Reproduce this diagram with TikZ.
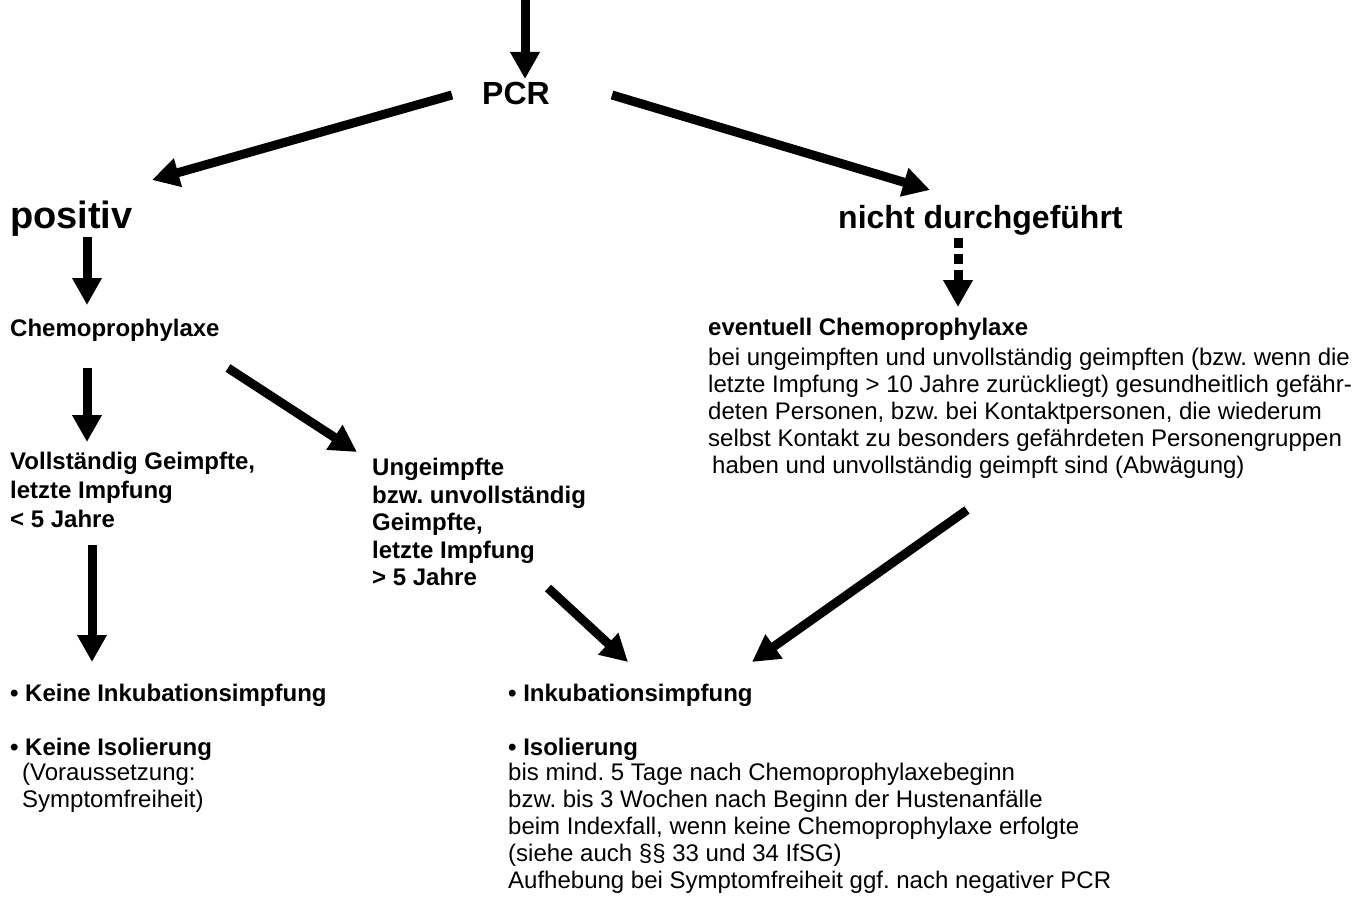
\documentclass[tikz,border=0pt]{standalone}
\usepackage{fontspec}
\setmainfont{Liberation Sans}
\usetikzlibrary{arrows.meta}
\begin{document}
\frenchspacing
\begin{tikzpicture}[x=1pt,y=-1pt,
  arr/.style={line width=9pt, -{Triangle[width=28pt,length=27pt]}},
  dotarr/.style={line width=9pt, dash pattern=on 10pt off 6pt, -{Triangle[width=28pt,length=27pt]}},
  big/.style={font=\fontsize{32}{38}\selectfont\bfseries, inner sep=0pt},
  bt/.style={font=\fontsize{24}{29}\selectfont\bfseries, inner sep=0pt, align=left},
  nt/.style={font=\fontsize{24}{27}\selectfont, inner sep=0pt, align=left}]
\useasboundingbox (0,0) rectangle (1367,899);

% texts
\node[big, anchor=base] (pcr) at (516,104) {PCR};
\node[big, font=\fontsize{38}{42}\selectfont\bfseries, anchor=base west] (pos) at (10,228) {positiv};
\node[big, anchor=base west] (nd) at (838,228) {nicht durchgeführt};
\node[bt, anchor=base west] (chemo) at (10,336) {Chemoprophylaxe};
\node[nt, anchor=north west] (ev) at (708,318) {\textbf{eventuell Chemoprophylaxe}\\[3pt]
  bei ungeimpften und unvollständig geimpften (bzw. wenn die\\
  letzte Impfung > 10 Jahre zurückliegt) gesundheitlich gefähr-\\
  deten Personen, bzw. bei Kontaktpersonen, die wiederum\\
  selbst Kontakt zu besonders gefährdeten Personengruppen\\
  \hspace*{4pt}haben und unvollständig geimpft sind (Abwägung)};
\node[bt, anchor=north west] (voll) at (10,452) {Vollständig Geimpfte,\\ letzte Impfung\\ < 5 Jahre};
\node[bt, font=\fontsize{24}{27.5}\selectfont\bfseries, anchor=north west] (unge) at (372,458)
  {Ungeimpfte\\ bzw. unvollständig\\ Geimpfte,\\ letzte Impfung\\ > 5 Jahre};
\node[bt, anchor=base west] (keineI) at (10,701) {\textbullet\ Keine Inkubationsimpfung};
\node[nt, anchor=north west] (keineIso) at (10,738) {\textbf{\textbullet\ Keine Isolierung}\\[-2pt]
  \hspace*{12pt}(Voraussetzung:\\
  \hspace*{12pt}Symptomfreiheit)};
\node[bt, anchor=base west] (inkI) at (508,701) {\textbullet\ Inkubationsimpfung};
\node[nt, anchor=north west] (iso) at (508,738) {\textbf{\textbullet\ Isolierung}\\[-2pt]
  bis mind. 5 Tage nach Chemoprophylaxebeginn\\
  bzw. bis 3 Wochen nach Beginn der Hustenanfälle\\
  beim Indexfall, wenn keine Chemoprophylaxe erfolgte\\
  (siehe auch §§ 33 und 34 IfSG)\\
  Aufhebung bei Symptomfreiheit ggf. nach negativer PCR};

% connector end points
\coordinate (a1s) at (525,0);   \coordinate (a1e) at (525,79);
\coordinate (a2s) at (452,95);  \coordinate (a2e) at (152,180);
\coordinate (a3s) at (612,95);  \coordinate (a3e) at (930,190);
\coordinate (a4s) at (87,237);  \coordinate (a4e) at (87,305);
\coordinate (a5s) at (958,238); \coordinate (a5e) at (958,307);
\coordinate (a6s) at (87,368);  \coordinate (a6e) at (87,442);
\coordinate (a7s) at (228,368); \coordinate (a7e) at (357,452);
\coordinate (a8s) at (92,545);  \coordinate (a8e) at (92,662);
\coordinate (a9s) at (548,588); \coordinate (a9e) at (628,662);
\coordinate (a10s) at (967,510); \coordinate (a10e) at (752,662);

\draw[arr] (a1s) -- (a1e);
\draw[arr] (a2s) -- (a2e);
\draw[arr] (a3s) -- (a3e);
\draw[arr] (a4s) -- (a4e);
\draw[dotarr] (a5s) -- (a5e);
\draw[arr] (a6s) -- (a6e);
\draw[arr] (a7s) -- (a7e);
\draw[arr] (a8s) -- (a8e);
\draw[arr] (a9s) -- (a9e);
\draw[arr] (a10s) -- (a10e);
\end{tikzpicture}
\end{document}
